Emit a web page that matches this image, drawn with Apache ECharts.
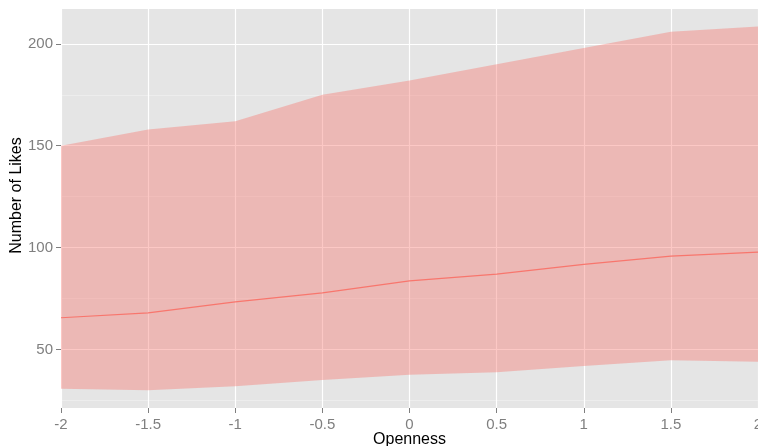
<!DOCTYPE html>
<html>
<head>
<meta charset="utf-8">
<script src="https://cdn.jsdelivr.net/npm/echarts@6/dist/echarts.min.js"></script>
<style>html,body{margin:0;padding:0;background:#fff}#c{width:758px;height:446px}</style>
</head>
<body>
<div id="c"></div>
<script>
const openness = [-2, -1.5, -1, -0.5, 0, 0.5, 1, 1.5, 2];
const upper = [150, 158, 162, 175, 182, 190, 198, 206, 208.5];
const fitted = [65.6, 68, 73.4, 77.8, 83.7, 87, 91.8, 95.8, 97.8];
const lower = [30.8, 30, 32, 35, 37.6, 38.8, 41.9, 44.7, 44];

const ribbonData = openness.map((x, i) => [x, lower[i], upper[i]]);
const fitLine = openness.map((x, i) => [x, fitted[i]]);

const chart = echarts.init(document.getElementById('c'), null, {renderer: 'canvas'});
const font = 'Liberation Sans, Arial, Helvetica, sans-serif';
chart.setOption({
  animation: false,
  backgroundColor: '#ffffff',
  grid: {left: 61, right: 0, top: 8, bottom: 38, show: true, backgroundColor: '#E5E5E5', borderWidth: 0,
         containLabel: false, outerBoundsMode: 'none'},
  xAxis: {
    type: 'value', min: -2, max: 2, interval: 0.5,
    name: 'Openness', nameLocation: 'middle', nameGap: 24, nameMoveOverlap: false,
    nameTextStyle: {color: '#000', fontSize: 16, fontFamily: font},
    axisLine: {show: false, onZero: false},
    axisTick: {show: true, length: 5, lineStyle: {color: '#7F7F7F', width: 1}},
    axisLabel: {color: '#7F7F7F', fontSize: 15, fontFamily: font, margin: 9},
    splitLine: {show: true, lineStyle: {color: '#ffffff', width: 1.2}}
  },
  yAxis: {
    type: 'value', min: 21.3, max: 217.6, splitNumber: 4,
    name: 'Number of Likes', nameLocation: 'middle', nameGap: 36, nameMoveOverlap: false,
    nameTextStyle: {color: '#000', fontSize: 16, fontFamily: font, padding: [0, 0, 0, 25]},
    axisLine: {show: false, onZero: false},
    axisTick: {show: true, length: 5, lineStyle: {color: '#7F7F7F', width: 1}},
    axisLabel: {color: '#7F7F7F', fontSize: 15, fontFamily: font, margin: 8, showMinLabel: false, showMaxLabel: false},
    splitLine: {show: true, lineStyle: {color: '#ffffff', width: 1.2}},
    minorTick: {show: false, splitNumber: 2},
    minorSplitLine: {show: true, lineStyle: {color: '#F2F2F2', width: 0.6}}
  },
  series: [
    {
      type: 'custom', data: ribbonData, encode: {x: 0, y: [1, 2]}, silent: true, clip: true,
      renderItem: function (params, api) {
        if (params.dataIndex !== 0) return null;
        const pts = [];
        for (let i = 0; i < openness.length; i++) pts.push(api.coord([openness[i], upper[i]]));
        for (let i = openness.length - 1; i >= 0; i--) pts.push(api.coord([openness[i], lower[i]]));
        return {type: 'polygon', shape: {points: pts}, style: {fill: '#F8766D', opacity: 0.4}};
      }
    },
    {type: 'line', data: fitLine, symbol: 'none', lineStyle: {color: '#F8766D', width: 1.2}, silent: true}
  ]
});
</script>
</body>
</html>
